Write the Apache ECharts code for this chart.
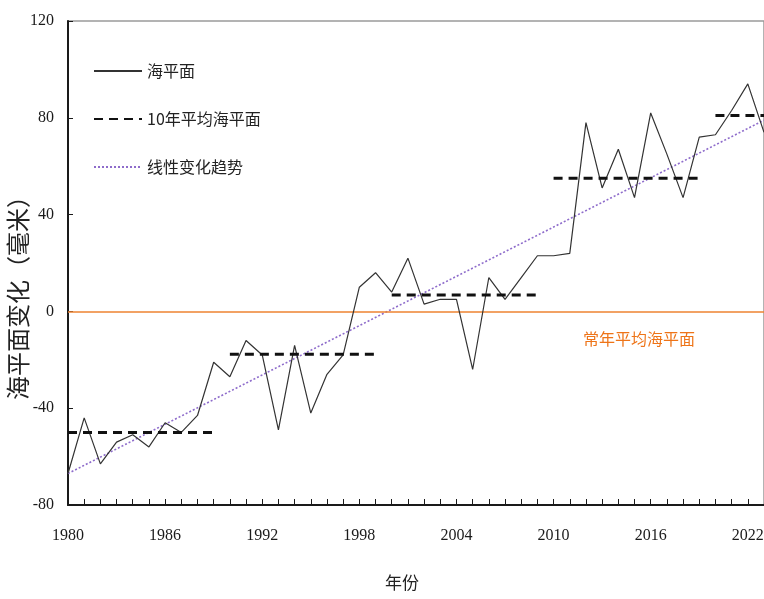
<!DOCTYPE html>
<html>
<head>
<meta charset="utf-8">
<script src="https://cdn.jsdelivr.net/npm/echarts@6/dist/echarts.min.js"></script>
<style>
  html, body { margin: 0; padding: 0; background: #fff; }
  #chart { width: 764px; height: 599px; }
</style>
</head>
<body>
<div id="chart"></div>
<script>
// Annual sea level anomaly (mm), 1980-2023
const years = [
  1980, 1981, 1982, 1983, 1984, 1985, 1986, 1987, 1988, 1989,
  1990, 1991, 1992, 1993, 1994, 1995, 1996, 1997, 1998, 1999,
  2000, 2001, 2002, 2003, 2004, 2005, 2006, 2007, 2008, 2009,
  2010, 2011, 2012, 2013, 2014, 2015, 2016, 2017, 2018, 2019,
  2020, 2021, 2022, 2023
];
const seaLevel = [
  -67, -44, -63, -54, -51, -56, -46, -50, -43, -21,
  -27, -12, -18, -49, -14, -42, -26, -18, 10, 16,
  8, 22, 3, 5, 5, -24, 14, 5, 14, 23,
  23, 24, 78, 51, 67, 47, 82, 65, 47, 72,
  73, 83, 94, 74
];

// Decadal means
const decadeStart = [1980, 1990, 2000, 2010, 2020];
const decadeEnd = [1989, 1999, 2009, 2019, 2023];
const decadeMean = [-50, -17.7, 6.8, 55, 81];

// Linear trend endpoints
const trendYears = [1980, 2023];
const trendValues = [-67, 79];

// Axis ticks
const yTicks = [-80, -40, 0, 40, 80, 120];
const xLabelYears = [1980, 1986, 1992, 1998, 2004, 2010, 2016, 2022];

const NAME_SEA = '海平面';
const NAME_DEC = '10年平均海平面';
const NAME_TREND = '线性变化趋势';
const NORMAL_LABEL = '常年平均海平面';

const cjk = '"Noto Sans CJK SC", sans-serif';
const serif = '"Liberation Serif", "DejaVu Serif", serif';

const series = [];

series.push({
  name: NAME_SEA,
  type: 'line',
  data: years.map((y, i) => [y, seaLevel[i]]),
  symbol: 'none',
  z: 5,
  lineStyle: { color: '#333333', width: 1.2 },
  itemStyle: { color: '#333333' },
  markLine: {
    silent: true,
    symbol: 'none',
    label: { show: false },
    lineStyle: { color: '#EE8330', width: 1.6, type: 'solid' },
    data: [{ yAxis: 0 }]
  }
});

decadeStart.forEach((s, i) => {
  series.push({
    name: NAME_DEC,
    type: 'line',
    data: [[s, decadeMean[i]], [decadeEnd[i], decadeMean[i]]],
    symbol: 'none',
    z: 6,
    lineStyle: { color: '#111111', width: 3, type: [9, 6] },
    itemStyle: { color: '#111111' }
  });
});

series.push({
  name: NAME_TREND,
  type: 'line',
  data: trendYears.map((y, i) => [y, trendValues[i]]),
  symbol: 'none',
  z: 4,
  lineStyle: { color: '#8E6CCB', width: 1.6, type: [2, 2] },
  itemStyle: { color: '#8E6CCB' }
});

const chart = echarts.init(document.getElementById('chart'), null, { renderer: 'canvas' });

chart.setOption({
  backgroundColor: '#ffffff',
  animation: false,
  grid: {
    left: 68, width: 696, top: 21, bottom: 94,
    outerBoundsMode: 'none',
    containLabel: false,
    show: true, borderColor: '#9a9a9a', borderWidth: 1.5, backgroundColor: 'transparent'
  },
  legend: {
    orient: 'vertical',
    left: 93,
    top: 63,
    padding: 0,
    itemWidth: 48,
    itemHeight: 14,
    itemGap: 32,
    data: [NAME_SEA, NAME_DEC, NAME_TREND],
    itemStyle: { opacity: 0 },
    textStyle: { fontFamily: cjk, fontSize: 16, color: '#222222' }
  },
  xAxis: {
    type: 'value',
    min: 1980,
    max: 2023,
    interval: 1,
    splitLine: { show: false },
    axisLine: { show: true, onZero: false, lineStyle: { color: '#1a1a1a', width: 2 } },
    axisTick: { show: true, inside: true, length: 6, lineStyle: { color: '#1a1a1a', width: 1 } },
    axisLabel: {
      margin: 23,
      fontFamily: serif,
      fontSize: 16,
      color: '#1a1a1a',
      showMaxLabel: false,
      hideOverlap: false,
      formatter: v => (xLabelYears.indexOf(v) >= 0 ? String(v) : '')
    }
  },
  yAxis: {
    type: 'value',
    min: yTicks[0],
    max: yTicks[yTicks.length - 1],
    interval: 40,
    splitLine: { show: false },
    axisLine: { show: true, onZero: false, lineStyle: { color: '#1a1a1a', width: 2 } },
    axisTick: { show: true, inside: true, length: 5, lineStyle: { color: '#1a1a1a', width: 1 } },
    axisLabel: { margin: 14, fontFamily: serif, fontSize: 16, color: '#1a1a1a' }
  },
  graphic: [
    {
      type: 'text',
      x: 18, y: 292,
      rotation: Math.PI / 2,
      style: {
        text: '海平面变化（毫米）',
        fontFamily: cjk, fontSize: 24, fill: '#222222',
        align: 'center', verticalAlign: 'middle'
      }
    },
    {
      type: 'text',
      x: 402, y: 583,
      style: {
        text: '年份',
        fontFamily: cjk, fontSize: 17, fill: '#222222',
        align: 'center', verticalAlign: 'middle'
      }
    },
    {
      type: 'text',
      x: 639, y: 339,
      style: {
        text: NORMAL_LABEL,
        fontFamily: cjk, fontSize: 16, fill: '#EE7418',
        align: 'center', verticalAlign: 'middle'
      }
    }
  ],
  series: series
});
</script>
</body>
</html>
